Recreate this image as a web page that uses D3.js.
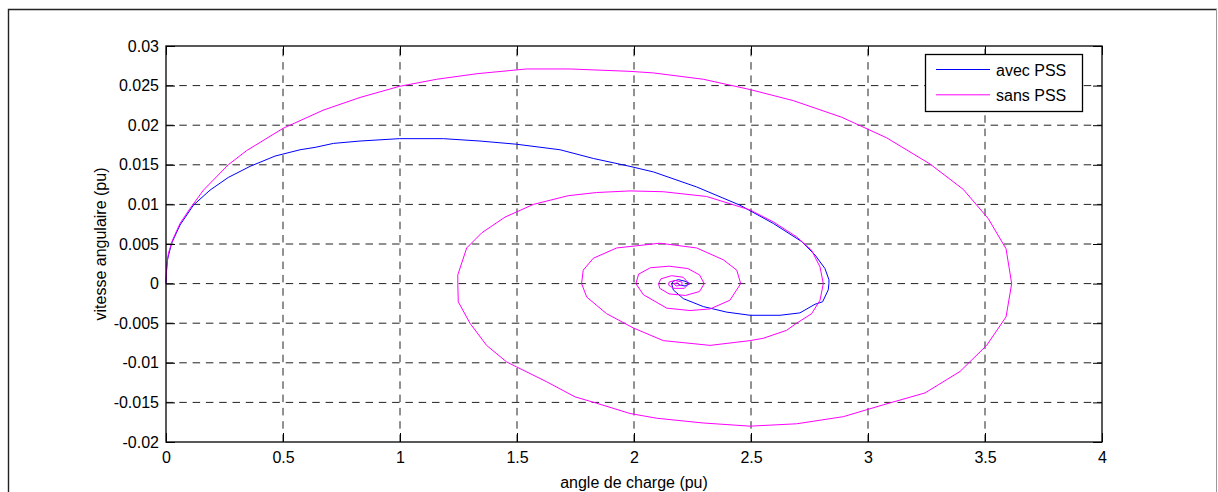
<!DOCTYPE html>
<html>
<head>
<meta charset="utf-8">
<script src="https://cdn.jsdelivr.net/npm/d3@7"></script>
<style>
  body { margin: 0; background: #fff; }
  svg { display: block; }
  text { font-family: "Liberation Sans", Arial, Helvetica, sans-serif; fill: #000; }
</style>
</head>
<body>
<svg id="chart" width="1218" height="492"></svg>
<script>
// Axis ticks
const xTicks = [0, 0.5, 1, 1.5, 2, 2.5, 3, 3.5, 4];
const xTickLabels = ["0", "0.5", "1", "1.5", "2", "2.5", "3", "3.5", "4"];
const yTicks = [-0.02, -0.015, -0.01, -0.005, 0, 0.005, 0.01, 0.015, 0.02, 0.025, 0.03];
const yTickLabels = ["-0.02", "-0.015", "-0.01", "-0.005", "0", "0.005", "0.01", "0.015", "0.02", "0.025", "0.03"];

// Legend entries
const seriesNames = ["avec PSS", "sans PSS"];
const seriesColors = ["#0000ff", "#ff00ff"];

// Phase-plane trajectory with stabiliser: [load angle (pu), angular speed (pu)]
const avecPSS = [
  [0, 0], [0.002, 0.0015], [0.006, 0.0030], [0.024, 0.0051], [0.060, 0.0074],
  [0.117, 0.0099], [0.188, 0.0118], [0.266, 0.0134], [0.359, 0.0148], [0.466, 0.0161],
  [0.573, 0.0169], [0.637, 0.0172], [0.715, 0.0177], [0.829, 0.0180], [0.997, 0.0183],
  [1.185, 0.0183], [1.342, 0.0180], [1.497, 0.0176], [1.684, 0.0169], [1.826, 0.0158],
  [1.983, 0.0148], [2.083, 0.0141], [2.268, 0.0122], [2.453, 0.0099], [2.595, 0.0076],
  [2.717, 0.0053], [2.774, 0.0036], [2.816, 0.0019], [2.833, 0.0005], [2.833, 0.0000],
  [2.830, -0.0008], [2.806, -0.0023], [2.774, -0.0026], [2.709, -0.0037], [2.624, -0.0040],
  [2.496, -0.0040], [2.396, -0.0036], [2.296, -0.0029], [2.211, -0.0019], [2.168, -0.0008],
  [2.161, 0.0000], [2.168, 0.0003], [2.190, 0.0005], [2.218, 0.0003], [2.240, 0.0000],
  [2.218, -0.0003], [2.195, -0.0002], [2.190, 0.0000]
];

// Phase-plane trajectory without stabiliser
const sansPSS = [
  [0, 0], [0.003, 0.0020], [0.010, 0.0038], [0.028, 0.0055], [0.060, 0.0076],
  [0.103, 0.0095], [0.160, 0.0118], [0.266, 0.0150], [0.345, 0.0168], [0.500, 0.0196],
  [0.672, 0.0219], [0.829, 0.0235], [0.997, 0.0249], [1.157, 0.0258], [1.328, 0.0265],
  [1.541, 0.0271], [1.726, 0.0271], [1.983, 0.0268], [2.083, 0.0266], [2.296, 0.0258],
  [2.496, 0.0245], [2.681, 0.0231], [2.888, 0.0210], [3.080, 0.0184], [3.265, 0.0151],
  [3.407, 0.0119], [3.514, 0.0082], [3.590, 0.0044], [3.614, 0.0000], [3.590, -0.0042],
  [3.507, -0.0078], [3.393, -0.0111], [3.244, -0.0138], [3.066, -0.0153], [2.895, -0.0168],
  [2.695, -0.0177], [2.496, -0.0180], [2.296, -0.0176], [2.097, -0.0170], [1.983, -0.0164],
  [1.840, -0.0151], [1.748, -0.0143], [1.627, -0.0124], [1.497, -0.0105], [1.456, -0.0099],
  [1.370, -0.0078], [1.299, -0.0050], [1.249, -0.0023], [1.247, 0.0000], [1.247, 0.0011],
  [1.285, 0.0045], [1.349, 0.0064], [1.449, 0.0084], [1.570, 0.0100], [1.719, 0.0111],
  [1.840, 0.0115], [1.983, 0.0117], [2.125, 0.0116], [2.310, 0.0110], [2.496, 0.0093],
  [2.595, 0.0078], [2.695, 0.0059], [2.759, 0.0042], [2.795, 0.0021], [2.809, 0.0000],
  [2.795, -0.0021], [2.759, -0.0038], [2.695, -0.0050], [2.652, -0.0059], [2.553, -0.0069],
  [2.496, -0.0072], [2.325, -0.0078], [2.125, -0.0072], [1.997, -0.0056], [1.883, -0.0038],
  [1.798, -0.0017], [1.776, 0.0000], [1.783, 0.0017], [1.826, 0.0032], [1.926, 0.0045],
  [2.111, 0.0051], [2.268, 0.0045], [2.382, 0.0030], [2.439, 0.0017], [2.456, 0.0000],
  [2.410, -0.0021], [2.325, -0.0032], [2.239, -0.0034], [2.140, -0.0031], [2.040, -0.0014],
  [2.008, 0.0000], [2.020, 0.0012], [2.070, 0.0020], [2.150, 0.0022], [2.230, 0.0019],
  [2.280, 0.0011], [2.300, 0.0000], [2.280, -0.0010], [2.220, -0.0015], [2.150, -0.0013],
  [2.110, -0.0006], [2.105, 0.0000], [2.115, 0.0006], [2.160, 0.0010], [2.210, 0.0008],
  [2.235, 0.0000], [2.215, -0.0006], [2.170, -0.0006], [2.148, -0.0002], [2.150, 0.0002],
  [2.175, 0.0004], [2.205, 0.0002], [2.205, -0.0002], [2.180, -0.0003], [2.170, 0.0000],
  [2.185, 0.0001], [2.190, 0.0000]
];

const svg = d3.select("#chart");
const plot = { left: 166, right: 1102, top: 46, bottom: 442 };

const x = d3.scaleLinear().domain([0, 4]).range([plot.left, plot.right]);
const y = d3.scaleLinear().domain([-0.02, 0.03]).range([plot.bottom, plot.top]);

// Figure border
svg.append("path")
  .attr("d", "M8.5,492V9.5H1217")
  .attr("fill", "none").attr("stroke", "#222").attr("stroke-width", 1.4);
svg.append("line")
  .attr("x1", 1216.5).attr("x2", 1216.5).attr("y1", 9).attr("y2", 492)
  .attr("stroke", "#999").attr("stroke-width", 1);

// Plot background
svg.append("rect")
  .attr("x", plot.left).attr("y", plot.top)
  .attr("width", plot.right - plot.left).attr("height", plot.bottom - plot.top)
  .attr("fill", "#fff");

// Dashed grid
const grid = svg.append("g")
  .attr("stroke", "#222").attr("stroke-width", 1).attr("stroke-dasharray", "7.5,5.8");
grid.selectAll("line.gx").data(xTicks.slice(1, -1)).join("line")
  .attr("class", "gx")
  .attr("x1", d => x(d)).attr("x2", d => x(d))
  .attr("y1", plot.bottom).attr("y2", plot.top);
grid.selectAll("line.gy").data(yTicks.slice(1, -1)).join("line")
  .attr("class", "gy")
  .attr("x1", plot.left).attr("x2", plot.right)
  .attr("y1", d => y(d)).attr("y2", d => y(d));

// Curves
const line = d3.line().x(d => x(d[0])).y(d => y(d[1]));
const curves = [avecPSS, sansPSS];
svg.append("g").selectAll("path").data(curves).join("path")
  .attr("d", line)
  .attr("fill", "none")
  .attr("stroke", (d, i) => seriesColors[i])
  .attr("stroke-width", 1)
  .attr("stroke-linejoin", "round");

// Axes with inward ticks, mirrored on the opposite sides
const tickLen = 9;
const xAxis = d3.axisBottom(x).tickValues(xTicks).tickFormat((d, i) => xTickLabels[i])
  .tickSizeInner(-tickLen).tickSizeOuter(0).tickPadding(10);
const yAxis = d3.axisLeft(y).tickValues(yTicks).tickFormat((d, i) => yTickLabels[i])
  .tickSizeInner(-tickLen).tickSizeOuter(0).tickPadding(7);
const xAxisTop = d3.axisTop(x).tickValues(xTicks).tickFormat("")
  .tickSizeInner(-tickLen).tickSizeOuter(0);
const yAxisRight = d3.axisRight(y).tickValues(yTicks).tickFormat("")
  .tickSizeInner(-tickLen).tickSizeOuter(0);

function styleAxis(g) {
  g.select(".domain").remove();
  g.selectAll(".tick line").attr("stroke", "#000").attr("stroke-width", 1);
  g.selectAll(".tick text").attr("font-size", 16).attr("fill", "#000")
    .style("font-family", "\"Liberation Sans\", Arial, sans-serif");
}
svg.append("g").attr("transform", `translate(0,${plot.bottom})`).call(xAxis).call(styleAxis);
svg.append("g").attr("transform", `translate(${plot.left},0)`).call(yAxis).call(styleAxis);
svg.append("g").attr("transform", `translate(0,${plot.top})`).call(xAxisTop).call(styleAxis);
svg.append("g").attr("transform", `translate(${plot.right},0)`).call(yAxisRight).call(styleAxis);

// Axes box
svg.append("rect")
  .attr("x", plot.left).attr("y", plot.top)
  .attr("width", plot.right - plot.left).attr("height", plot.bottom - plot.top)
  .attr("fill", "none").attr("stroke", "#000").attr("stroke-width", 1.3);

// Axis titles
svg.append("text")
  .attr("x", (plot.left + plot.right) / 2).attr("y", 488)
  .attr("text-anchor", "middle").attr("font-size", 16)
  .text("angle de charge (pu)");
svg.append("text")
  .attr("transform", `translate(106,${(plot.top + plot.bottom) / 2}) rotate(-90)`)
  .attr("text-anchor", "middle").attr("font-size", 16)
  .text("vitesse angulaire (pu)");

// Legend
const legend = svg.append("g");
legend.append("rect")
  .attr("x", 925.5).attr("y", 54.5).attr("width", 157).attr("height", 57)
  .attr("fill", "#fff").attr("stroke", "#000").attr("stroke-width", 1.3);
const rows = legend.selectAll("g.row").data(seriesNames).join("g")
  .attr("class", "row")
  .attr("transform", (d, i) => `translate(0,${69.5 + i * 25.3})`);
rows.append("line")
  .attr("x1", 936).attr("x2", 990).attr("y1", 0).attr("y2", 0)
  .attr("stroke", (d, i) => seriesColors[i]).attr("stroke-width", 1);
rows.append("text")
  .attr("x", 996).attr("y", 6).attr("font-size", 16)
  .text(d => d);
</script>
</body>
</html>
